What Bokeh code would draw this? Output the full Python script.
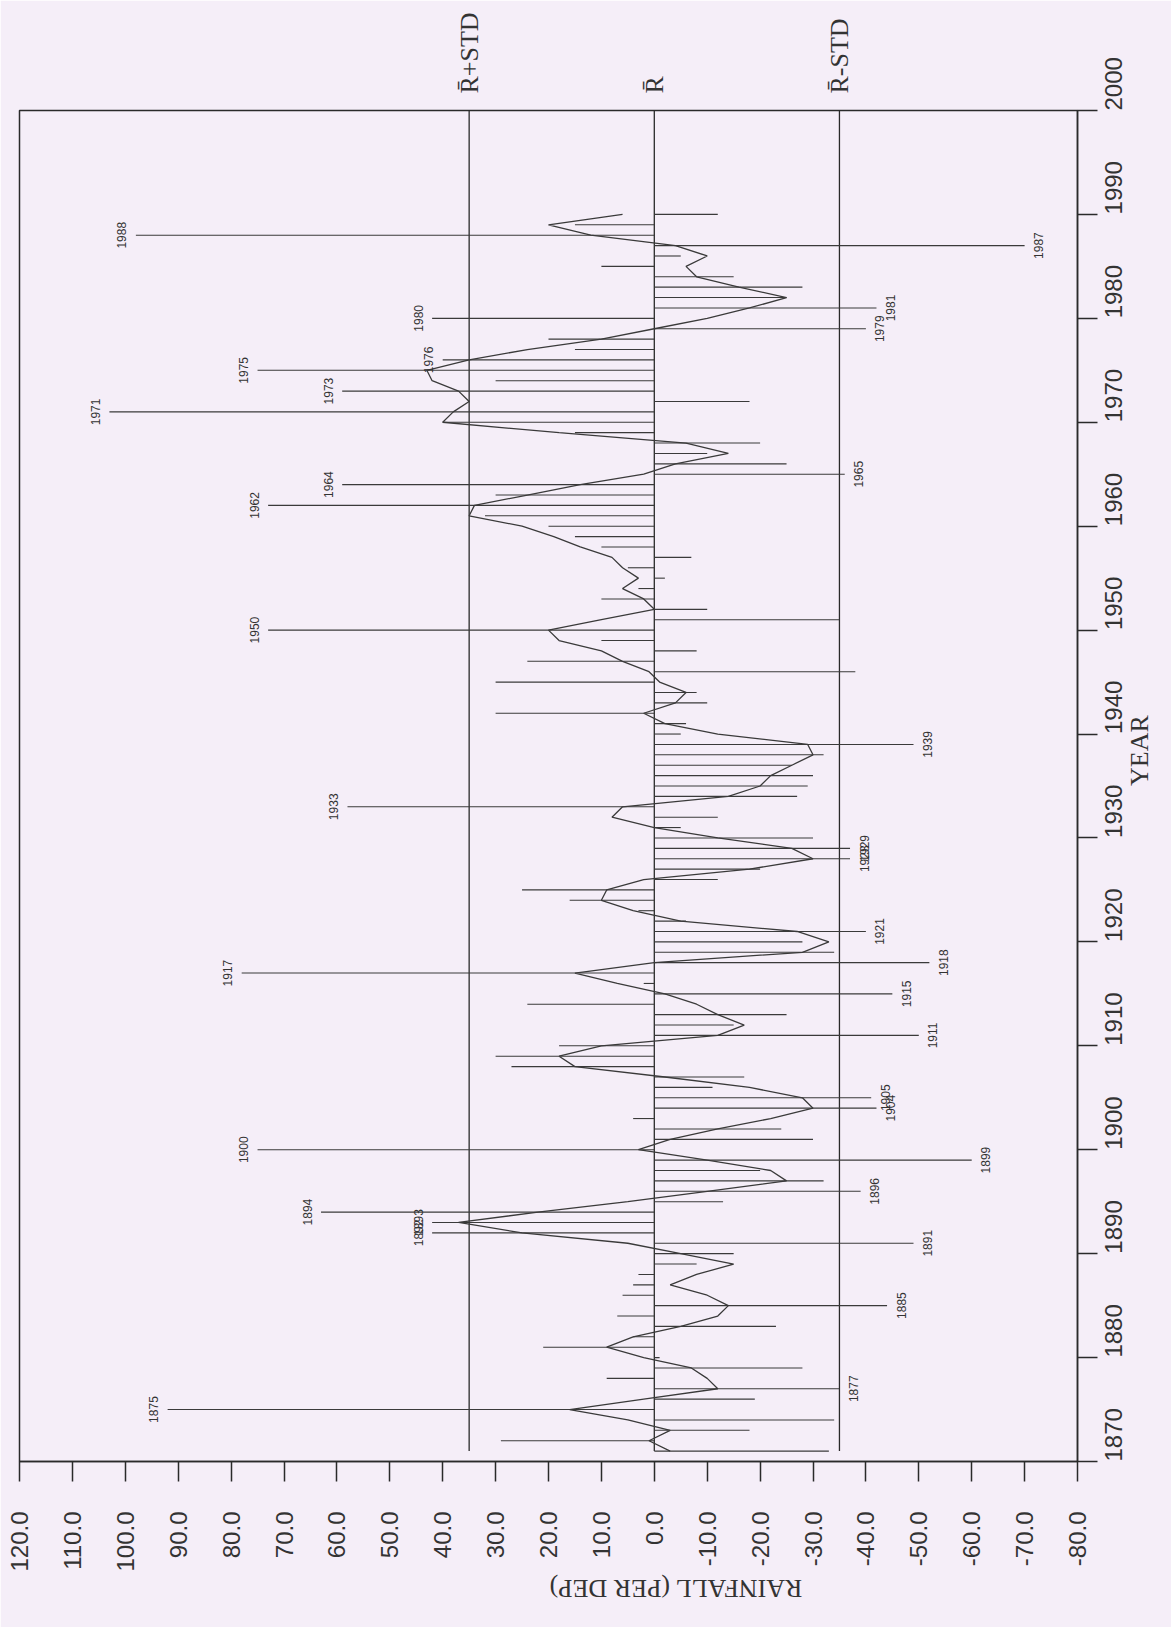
import math
from bokeh.plotting import figure
from bokeh.models import Range1d, FixedTicker, PrintfTickFormatter, LinearAxis, ColumnDataSource
from bokeh.core.properties import value
from bokeh.embed import file_html
from bokeh.resources import INLINE

# ---------------- data ----------------
years = list(range(1871, 1991))
rain = [
    -33, 29, -18, -34, 92, -19, -35, 9, -28, -1,        # 1871-1880
    21, 4, -23, 7, -44, 6, 4, 3, -8, -15,               # 1881-1890
    -49, 42, 42, 63, -13, -39, -32, -20, -60, 75,       # 1891-1900
    -30, -24, 4, -42, -41, -11, -17, 27, 30, 18,        # 1901-1910
    -50, -15, -25, 24, -45, 2, 78, -52, -34, -28,       # 1911-1920
    -40, -6, 3, 16, 25, -12, -20, -37, -37, -30,        # 1921-1930
    -5, -12, 58, -27, -29, -30, -26, -32, -49, -5,      # 1931-1940
    -6, 30, -10, -8, 30, -38, 24, -8, 10, 73,           # 1941-1950
    -35, -10, 10, 3, -2, 5, -7, 10, 15, 20,             # 1951-1960
    32, 73, 30, 59, -36, -25, -10, -20, 15, 40,         # 1961-1970
    103, -18, 59, 30, 75, 40, 15, 20, -40, 42,          # 1971-1980
    -42, -25, -28, -15, 10, -5, -70, 98, 15, -12,       # 1981-1990
]
smooth = [
    -3, 1, -3, 5, 16, 2, -12, -10, -7, 2,
    9, 4, -5, -12, -14, -10, -3, -8, -15, -5,
    5, 25, 37, 22, 5, -10, -25, -22, -10, 3,
    -3, -12, -22, -30, -28, -18, -2, 15, 18, 10,
    -12, -17, -12, -8, -2, 7, 15, 0, -28, -33,
    -27, -5, 4, 10, 9, 2, -18, -30, -26, -12,
    0, 8, 6, -14, -20, -22, -26, -30, -29, -12,
    -2, 2, -4, -6, -1, 1, 6, 10, 18, 20,
    10, 0, 2, 6, 3, 6, 8, 14, 19, 25,
    35, 34, 24, 14, 2, -4, -14, -6, 18, 40,
    38, 35, 37, 42, 43, 35, 24, 10, 0, -10,
    -18, -25, -16, -8, -6, -10, -4, 12, 20, 6,
]
label_years = [1875, 1877, 1885, 1891, 1892, 1893, 1894, 1896, 1899, 1900,
               1904, 1905, 1911, 1915, 1917, 1918, 1921, 1928, 1929, 1933,
               1939, 1950, 1962, 1964, 1965, 1971, 1973, 1975, 1976, 1979,
               1980, 1981, 1987, 1988]
MEAN = 0.0
STD = 35.0
ref_names = ["R\u0304+STD", "R\u0304", "R\u0304-STD"]
x_ticks = list(range(-80, 121, 10))
y_ticks = list(range(1870, 2001, 10))

# ---------------- figure ----------------
BG = "#f5eef8"
INK = "#2a2a2a"
TXT = "#333333"
p = figure(width=1171, height=1627,
           x_range=Range1d(120, -80), y_range=Range1d(1870, 2000),
           y_axis_location="right",
           output_backend="svg", toolbar_location=None,
           min_border_left=19, min_border_right=94,
           min_border_top=110, min_border_bottom=166)
p.background_fill_color = BG
p.border_fill_color = BG
p.outline_line_color = INK
p.outline_line_width = 1.5
p.xgrid.visible = False
p.ygrid.visible = False

for ax in (p.xaxis[0], p.yaxis[0]):
    ax.axis_line_color = INK
    ax.axis_line_width = 1.5
    ax.major_tick_line_color = INK
    ax.major_tick_line_width = 1.5
    ax.major_tick_out = 20
    ax.major_tick_in = 0
    ax.minor_tick_line_color = None
    ax.major_label_text_font = "Liberation Sans"
    ax.major_label_text_color = TXT
    ax.major_label_orientation = math.pi / 2
    ax.axis_label_text_font = "Liberation Serif"
    ax.axis_label_text_font_style = "normal"
    ax.axis_label_text_font_size = "26px"
    ax.axis_label_text_color = TXT

xa = p.xaxis[0]
xa.ticker = FixedTicker(ticks=x_ticks)
xa.formatter = PrintfTickFormatter(format="%.1f")
xa.major_label_text_font_size = "24px"
xa.major_label_standoff = 30
xa.axis_label = "RAINFALL (PER DEP)"
xa.axis_label_orientation = math.pi
xa.axis_label_standoff = 14

ya = p.yaxis[0]
ya.ticker = FixedTicker(ticks=y_ticks)
ya.major_label_text_font_size = "24px"
ya.major_label_standoff = 16
ya.axis_label = "YEAR"
ya.axis_label_orientation = math.pi / 2
ya.axis_label_standoff = 6

# top axis carrying the names of the reference lines
ref_x = [MEAN + STD, MEAN, MEAN - STD]
top = LinearAxis(ticker=FixedTicker(ticks=ref_x),
                 major_label_overrides={v: n for v, n in zip(ref_x, ref_names)},
                 axis_line_color=None, major_tick_line_color=None,
                 minor_tick_line_color=None, major_tick_out=0, major_tick_in=0,
                 major_label_standoff=17, major_label_orientation=math.pi / 2,
                 major_label_text_font="Liberation Serif",
                 major_label_text_font_size="26px",
                 major_label_text_color=TXT)
p.add_layout(top, "above")

# reference lines (mean and mean +/- std)
p.segment(x0=ref_x, y0=[years[0]] * 3, x1=ref_x, y1=[2000] * 3,
          line_color=INK, line_width=1.3)

# yearly spikes
src = ColumnDataSource(dict(year=years, rain=rain, zero=[MEAN] * len(years)))
p.segment(x0="zero", y0="year", x1="rain", y1="year", source=src,
          line_color="#3a3a3a", line_width=1.1)

# smoothed curve
p.line(x=smooth, y=years, line_color="#3a3a3a", line_width=1.3)

# labels for extreme years
pos_y = [y for y in label_years if rain[years.index(y)] > 0]
neg_y = [y for y in label_years if rain[years.index(y)] < 0]
pos_x = [rain[years.index(y)] for y in pos_y]
neg_x = [rain[years.index(y)] for y in neg_y]
common = dict(angle=math.pi / 2, text_align="center", text_baseline="middle",
              text_font=value("Liberation Sans"), text_font_size="12px",
              text_color=TXT)
p.text(x=pos_x, y=pos_y, text=[str(y) for y in pos_y], x_offset=-14, **common)
p.text(x=neg_x, y=neg_y, text=[str(y) for y in neg_y], x_offset=14, **common)

open("out.html", "w").write(file_html(p, INLINE))
